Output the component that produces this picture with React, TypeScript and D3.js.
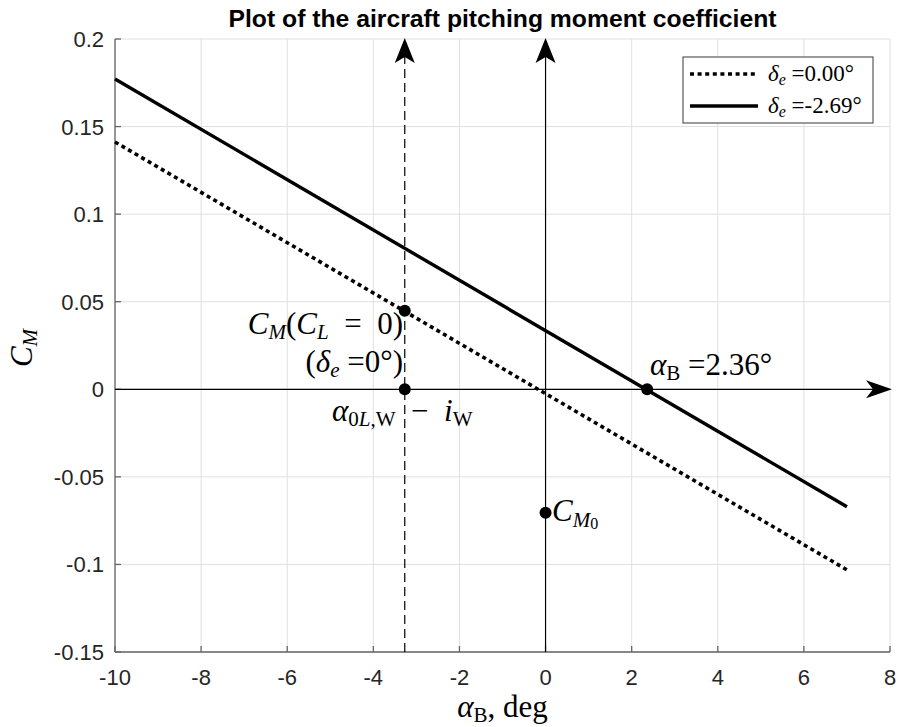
import React from "react";
import * as d3 from "d3";

// line endpoints (alpha in deg, CM)
const alphaEnds = [-10, 7];
const cmDelta0 = [0.1412, -0.1031];
const cmDeltaTrim = [0.1772, -0.0671];

const xTicks = [-10, -8, -6, -4, -2, 0, 2, 4, 6, 8];
const yTicks = [-0.15, -0.1, -0.05, 0, 0.05, 0.1, 0.15, 0.2];

const alphaZeroLift = -3.27;
const cmAtZeroLift = 0.0449;
const alphaTrim = 2.36;
const cm0 = -0.0705;

const W = 898;
const H = 727;
const margin = { top: 39, right: 8, bottom: 75, left: 115 };

const serif = "'Liberation Serif', 'DejaVu Serif', serif";
const sans = "'Liberation Sans', Arial, sans-serif";

const fmtY = (v: number) => String(+v.toFixed(2));

const FS = 31; // math text
const SUB = 21; // subscripts

export default function App() {
  const x = d3.scaleLinear().domain([-10, 8]).range([margin.left, W - margin.right]);
  const y = d3.scaleLinear().domain([-0.15, 0.2]).range([H - margin.bottom, margin.top]);
  const x0 = x.range()[0], x1 = x.range()[1];
  const yB = y.range()[0], yT = y.range()[1];

  const line = d3.line<[number, number]>().x(d => x(d[0])).y(d => y(d[1]));
  const dotPts: [number, number][] = alphaEnds.map((a, i) => [a, cmDelta0[i]]);
  const solPts: [number, number][] = alphaEnds.map((a, i) => [a, cmDeltaTrim[i]]);

  const upHead = (cx: number, ty: number) =>
    `M${cx},${ty} L${cx + 10},${ty + 25} L${cx},${ty + 19} L${cx - 10},${ty + 25} Z`;
  const rightTip = x1 + 2;
  const rightHead = (tx: number, cy: number) =>
    `M${tx},${cy} L${tx - 26},${cy + 9} L${tx - 19},${cy} L${tx - 26},${cy - 9} Z`;

  const xz = x(alphaZeroLift);
  const y0 = y(0);

  return (
    <svg width={W} height={H} style={{ position: "absolute", left: 0, top: 0, background: "#fff" }}>
      <rect width={W} height={H} fill="#fff" />
      {/* grid */}
      <g stroke="#e0e0e0" strokeWidth={1}>
        {xTicks.map(t => (
          <line key={"gx" + t} x1={x(t)} x2={x(t)} y1={yT} y2={yB} />
        ))}
        {yTicks.map(t => (
          <line key={"gy" + t} x1={x0} x2={x1} y1={y(t)} y2={y(t)} />
        ))}
      </g>
      {/* axes */}
      <g stroke="#666" strokeWidth={1.3}>
        <line x1={x0} x2={x0} y1={yT} y2={yB} />
        <line x1={x0} x2={x1} y1={yB} y2={yB} />
        {xTicks.map(t => (
          <line key={"tx" + t} x1={x(t)} x2={x(t)} y1={yB} y2={yB - 6} />
        ))}
        {yTicks.map(t => (
          <line key={"ty" + t} x1={x0} x2={x0 + 6} y1={y(t)} y2={y(t)} />
        ))}
      </g>
      <g fontFamily={sans} fontSize={22} fill="#262626">
        {xTicks.map(t => (
          <text key={"lx" + t} x={x(t)} y={yB + 33} textAnchor="middle">
            {String(t)}
          </text>
        ))}
        {yTicks.map(t => (
          <text key={"ly" + t} x={x0 - 11} y={y(t) + 8} textAnchor="end">
            {fmtY(t)}
          </text>
        ))}
      </g>

      {/* guide lines with arrows */}
      <line x1={xz} x2={xz} y1={yB} y2={yT + 10} stroke="#000" strokeWidth={1.2} strokeDasharray="9 5" />
      <path d={upHead(xz, yT - 1)} fill="#000" />
      <line x1={x(0)} x2={x(0)} y1={yB} y2={yT + 10} stroke="#000" strokeWidth={1.2} />
      <path d={upHead(x(0), yT - 1)} fill="#000" />
      <line x1={x0} x2={rightTip - 10} y1={y0} y2={y0} stroke="#000" strokeWidth={1.2} />
      <path d={rightHead(rightTip, y0)} fill="#000" />

      {/* CM lines */}
      <path d={line(dotPts) || ""} fill="none" stroke="#000" strokeWidth={3.6} strokeDasharray="4 3.6" />
      <path d={line(solPts) || ""} fill="none" stroke="#000" strokeWidth={3.4} />

      {/* points */}
      <g fill="#000">
        <circle cx={xz} cy={y(cmAtZeroLift)} r={6} />
        <circle cx={xz} cy={y0} r={6} />
        <circle cx={x(alphaTrim)} cy={y0} r={6} />
        <circle cx={x(0)} cy={y(cm0)} r={6} />
      </g>

      {/* annotations */}
      <g fontFamily={serif} fontSize={FS} fill="#000" style={{ whiteSpace: "pre" }}>
        <text x={403} y={334} textAnchor="end">
          <tspan fontStyle="italic">C</tspan>
          <tspan fontSize={SUB} fontStyle="italic" dy={5}>M</tspan>
          <tspan dy={-5}>(</tspan>
          <tspan fontStyle="italic">C</tspan>
          <tspan fontSize={SUB} fontStyle="italic" dy={5}>L</tspan>
          <tspan dy={-5}>{"\u2002=\u20020)"}</tspan>
        </text>
        <text x={403} y={372} textAnchor="end">
          <tspan>(</tspan>
          <tspan fontStyle="italic">δ</tspan>
          <tspan fontSize={SUB} fontStyle="italic" dy={5}>e</tspan>
          <tspan dy={-5}>{" =0°)"}</tspan>
        </text>
        <text x={332} y={421}>
          <tspan fontStyle="italic">α</tspan>
          <tspan fontSize={SUB} dy={5}>0</tspan>
          <tspan fontSize={SUB} fontStyle="italic">L</tspan>
          <tspan fontSize={SUB}>,W</tspan>
          <tspan dy={-5}>{"\u2002−\u2002"}</tspan>
          <tspan fontStyle="italic">i</tspan>
          <tspan fontSize={SUB} dy={5}>W</tspan>
        </text>
        <text x={650} y={375}>
          <tspan fontStyle="italic">α</tspan>
          <tspan fontSize={SUB} dy={5}>B</tspan>
          <tspan dy={-5}>{" =2.36°"}</tspan>
        </text>
        <text x={552} y={521}>
          <tspan fontStyle="italic">C</tspan>
          <tspan fontSize={SUB} fontStyle="italic" dy={6}>M</tspan>
          <tspan fontSize={16} dy={2}>0</tspan>
        </text>
        <text x={(x0 + x1) / 2} y={717} textAnchor="middle">
          <tspan fontStyle="italic">α</tspan>
          <tspan fontSize={SUB} dy={5}>B</tspan>
          <tspan dy={-5}>, deg</tspan>
        </text>
        <text transform={`translate(32,348) rotate(-90)`} textAnchor="middle">
          <tspan fontStyle="italic">C</tspan>
          <tspan fontSize={SUB} fontStyle="italic" dy={5}>M</tspan>
        </text>
      </g>

      {/* title */}
      <text
        x={(x0 + x1) / 2}
        y={27}
        textAnchor="middle"
        fontFamily={sans}
        fontWeight="bold"
        fontSize={24}
        fill="#000"
        textLength={548}
        lengthAdjust="spacingAndGlyphs"
      >
        Plot of the aircraft pitching moment coefficient
      </text>

      {/* legend */}
      <g>
        <rect x={683} y={57} width={190} height={66} fill="#fff" stroke="#666" strokeWidth={1.3} />
        <line x1={690} x2={758} y1={74} y2={74} stroke="#000" strokeWidth={3.6} strokeDasharray="4 3.6" />
        <line x1={690} x2={758} y1={106} y2={106} stroke="#000" strokeWidth={3.4} />
        <g fontFamily={serif} fontSize={23} fill="#000" style={{ whiteSpace: "pre" }}>
          <text x={768} y={81}>
            <tspan fontStyle="italic">δ</tspan>
            <tspan fontSize={16} fontStyle="italic" dy={4}>e</tspan>
            <tspan dy={-4}>{" =0.00°"}</tspan>
          </text>
          <text x={768} y={113}>
            <tspan fontStyle="italic">δ</tspan>
            <tspan fontSize={16} fontStyle="italic" dy={4}>e</tspan>
            <tspan dy={-4}>{" =-2.69°"}</tspan>
          </text>
        </g>
      </g>
    </svg>
  );
}
